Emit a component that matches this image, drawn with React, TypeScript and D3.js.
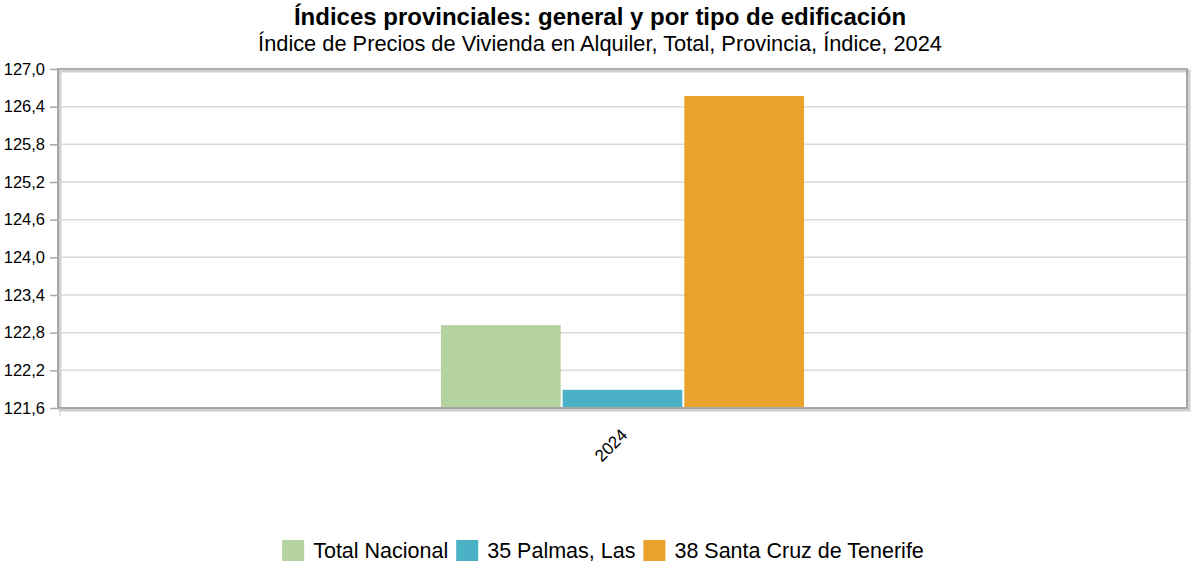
import { useEffect, useRef } from "react"
import * as d3 from "d3"

const categories = ["2024"]
const seriesNames = ["Total Nacional", "35 Palmas, Las", "38 Santa Cruz de Tenerife"]
const seriesColors = ["#b5d3a0", "#4bb1c7", "#e9a22c"]
const seriesValues = [122.92, 121.89, 126.57]
const yTicks = [121.6, 122.2, 122.8, 123.4, 124.0, 124.6, 125.2, 125.8, 126.4, 127.0]

const W = 1200
const H = 586
const FONT = "'Liberation Sans', Arial, sans-serif"

export default function App() {
    const svgRef = useRef<SVGSVGElement>(null)

    useEffect(() => {
        if (!svgRef.current) return
        const svg = d3.select(svgRef.current)
        svg.selectAll("*").remove()

        const margin = { top: 69, right: 13, bottom: 178, left: 58 }
        const width = W - margin.left - margin.right
        const height = H - margin.top - margin.bottom

        const x = d3.scaleBand().domain(categories).range([0, width])
        const y = d3.scaleLinear().domain([121.6, 127.0]).range([height, 0])

        const groupW = 363
        const x1 = d3.scaleBand().domain(seriesNames).range([0, groupW]).paddingInner(0.016)

        // Title
        svg.append("text")
            .attr("x", 600).attr("y", 25)
            .attr("text-anchor", "middle")
            .attr("font-family", FONT).attr("font-weight", "bold").attr("font-size", 24)
            .attr("fill", "#000")
            .text("Índices provinciales: general y por tipo de edificación")
        svg.append("text")
            .attr("x", 600).attr("y", 51)
            .attr("text-anchor", "middle")
            .attr("font-family", FONT).attr("font-size", 21.8)
            .attr("fill", "#000")
            .text("Índice de Precios de Vivienda en Alquiler, Total, Provincia, Índice, 2024")

        const g = svg.append("g").attr("transform", `translate(${margin.left},${margin.top})`)

        // Shadow for frame
        g.append("rect")
            .attr("x", 2).attr("y", 2).attr("width", width).attr("height", height)
            .attr("fill", "none").attr("stroke", "#d0d0d0").attr("stroke-width", 3)

        // Grid
        g.append("g")
            .selectAll("line")
            .data(yTicks.slice(1, -1))
            .join("line")
            .attr("x1", 0).attr("x2", width)
            .attr("y1", d => y(d)).attr("y2", d => y(d))
            .attr("stroke", "#d9d9d9").attr("stroke-width", 1.5)

        // Bars
        categories.forEach(c => {
            const x0 = (x(c) ?? 0) + x.bandwidth() / 2 - groupW / 2
            g.append("g")
                .selectAll("rect")
                .data(seriesValues)
                .join("rect")
                .attr("x", (d, i) => x0 + (x1(seriesNames[i]) ?? 0))
                .attr("y", d => y(d))
                .attr("width", x1.bandwidth())
                .attr("height", d => height - y(d))
                .attr("fill", (d, i) => seriesColors[i])
        })

        // Frame
        g.append("rect")
            .attr("x", 0).attr("y", 0).attr("width", width).attr("height", height)
            .attr("fill", "none").attr("stroke", "#a6a6a6").attr("stroke-width", 2)
        g.append("line")
            .attr("x1", 0).attr("x2", width).attr("y1", 0).attr("y2", 0)
            .attr("stroke", "#b0b0b0").attr("stroke-width", 1.5)

        // Y axis
        const yAxis = g.append("g")
            .call(d3.axisLeft(y).tickValues(yTicks).tickSize(8).tickPadding(5)
                .tickFormat(d => d3.format(".1f")(d as number).replace(".", ",")))
        yAxis.select(".domain").remove()
        yAxis.selectAll(".tick line").attr("stroke", "#a6a6a6").attr("stroke-width", 1.5)
        yAxis.selectAll("text")
            .attr("font-family", FONT).attr("font-size", 16.5).attr("fill", "#000")

        // X axis
        const xAxis = g.append("g")
            .attr("transform", `translate(0,${height})`)
            .call(d3.axisBottom(x).tickSize(0).tickPadding(0))
        xAxis.select(".domain").remove()
        xAxis.selectAll(".tick text")
            .attr("font-family", FONT).attr("font-size", 17).attr("fill", "#000")
            .attr("text-anchor", "end")
            .attr("dy", null)
            .attr("transform", "translate(6,28) rotate(-45)")
        g.append("line")
            .attr("x1", 2).attr("x2", 2).attr("y1", height).attr("y2", height + 8)
            .attr("stroke", "#c8c8c8").attr("stroke-width", 1)

        // Legend
        const legend = svg.append("g").attr("font-family", FONT).attr("font-size", 21.5)
        const items = legend.selectAll("g").data(seriesNames).join("g")
        items.append("rect").attr("width", 22).attr("height", 21).attr("y", -18)
            .attr("fill", (d, i) => seriesColors[i])
        items.append("text").attr("x", 31).attr("y", 0).attr("fill", "#000").text(d => d)
        let offset = 0
        const widths: number[] = []
        items.each(function () {
            const t = (this as SVGGElement).querySelector("text") as SVGTextElement
            widths.push(31 + t.getComputedTextLength() + 8)
        })
        const total = widths.reduce((a, b) => a + b, 0) - 8
        const start = 603 - total / 2
        items.attr("transform", (d, i) => {
            const tx = start + offset
            offset += widths[i]
            return `translate(${tx},558)`
        })
    }, [])

    return (
        <svg ref={svgRef} width={W} height={H} viewBox={`0 0 ${W} ${H}`}
            style={{ position: "absolute", left: 0, top: 0, display: "block", background: "#fff" }} />
    )
}
